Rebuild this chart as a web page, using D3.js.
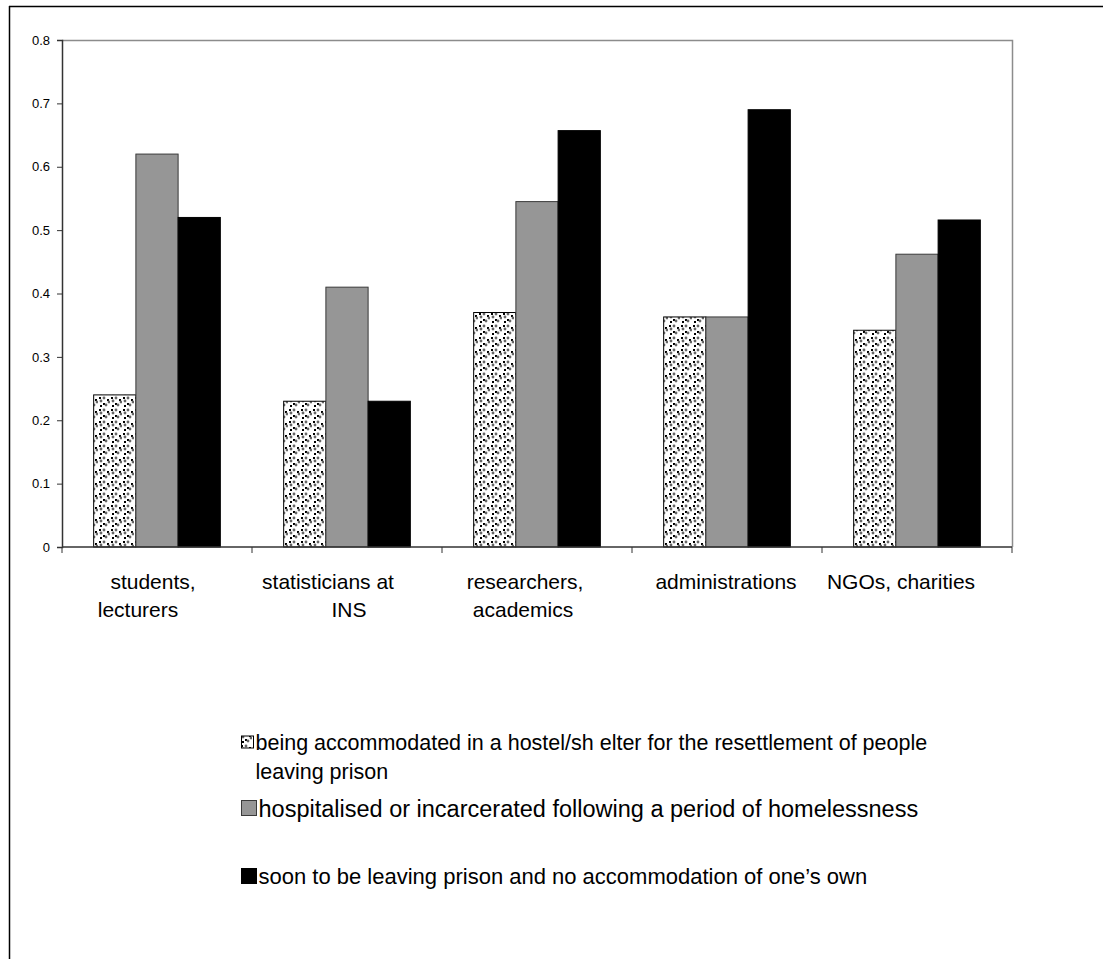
<!DOCTYPE html>
<html>
<head>
<meta charset="utf-8">
<script src="https://cdn.jsdelivr.net/npm/d3@7"></script>
<style>
  html, body { margin: 0; padding: 0; background: #fff; }
  svg { display: block; font-family: "Liberation Sans", Arial, sans-serif; }
</style>
</head>
<body>
<svg id="chart" width="1108" height="959"></svg>
<script>
// Groups of respondents along the x axis (each entry is one wrapped label)
const categories = [
  ["students,", "lecturers"],
  ["statisticians at", "INS"],
  ["researchers,", "academics"],
  ["administrations"],
  ["NGOs, charities"]
];

// Series names, as shown in the legend (first one wraps onto a second line)
const seriesNames = [
  ["being accommodated in a hostel/sh elter for the resettlement of people", "leaving prison"],
  ["hospitalised or incarcerated following a period of homelessness"],
  ["soon to be leaving prison and no accommodation of one\u2019s own"]
];

// Values per series, one per category
const hostelValues     = [0.24, 0.23, 0.37, 0.363, 0.342];
const hospitalValues   = [0.62, 0.41, 0.545, 0.363, 0.462];
const leavingValues    = [0.52, 0.23, 0.657, 0.69, 0.516];

const yTicks = [0, 0.1, 0.2, 0.3, 0.4, 0.5, 0.6, 0.7, 0.8];

const seriesValues = [hostelValues, hospitalValues, leavingValues];
const catKeys = categories.map(c => c.join(" "));
const seriesKeys = ["hostel", "hospital", "leaving"];

// Horizontal nudges for each wrapped label line (layout only)
const labelLineShift = [[-4, -19], [-19, 2], [-12, -14], [-1], [-16]];

const svg = d3.select("#chart");

// Dotted fill used by the first series
const defs = svg.append("defs");
const pat = defs.append("pattern")
  .attr("id", "dots")
  .attr("patternUnits", "userSpaceOnUse")
  .attr("width", 12).attr("height", 12);
pat.append("rect").attr("width", 12).attr("height", 12).attr("fill", "#fff");
[[1, 1], [5, 7], [9, 3], [2, 9]].forEach(([x, y]) =>
  pat.append("rect").attr("x", x).attr("y", y).attr("width", 2).attr("height", 2).attr("fill", "#000"));
[[8, 9], [6, 2], [11, 6], [3, 5]].forEach(([x, y]) =>
  pat.append("circle").attr("cx", x).attr("cy", y).attr("r", 1.4).attr("fill", "#666"));

const fills = ["url(#dots)", "#969696", "#000000"];
const strokes = ["#000", "#3a3a3a", "#000"];

// Outer frame (left and top edges)
svg.append("line").attr("x1", 9.5).attr("x2", 9.5).attr("y1", 6).attr("y2", 959)
  .attr("stroke", "#000").attr("stroke-width", 1.5);
svg.append("line").attr("x1", 9).attr("x2", 1103).attr("y1", 6.5).attr("y2", 6.5)
  .attr("stroke", "#000").attr("stroke-width", 1.5);

const plot = { left: 62, right: 1012, top: 40, bottom: 547 };

const x0 = d3.scaleBand().domain(catKeys).range([plot.left, plot.right]);
const x1 = d3.scaleBand().domain(seriesKeys).range([0, x0.bandwidth()])
  .paddingInner(0).paddingOuter(0.75);
const y = d3.scaleLinear().domain([0, 0.8]).range([plot.bottom, plot.top]);

// Plot area border: top and right in grey
svg.append("path")
  .attr("d", `M${plot.left},${plot.top + 0.5}H${plot.right + 0.5}V${plot.bottom}`)
  .attr("fill", "none").attr("stroke", "#8c8c8c").attr("stroke-width", 1.5);

// Bars
const groups = svg.append("g").selectAll("g")
  .data(catKeys)
  .join("g")
  .attr("transform", d => `translate(${x0(d)},0)`);

groups.selectAll("rect")
  .data((d, ci) => seriesKeys.map((s, si) => ({ s, si, v: seriesValues[si][ci] })))
  .join("rect")
  .attr("x", d => x1(d.s))
  .attr("width", x1.bandwidth())
  .attr("y", d => y(d.v))
  .attr("height", d => y(0) - y(d.v))
  .attr("fill", d => fills[d.si])
  .attr("stroke", d => strokes[d.si])
  .attr("stroke-width", 1);

// Y axis
const yAxis = svg.append("g")
  .attr("transform", `translate(${plot.left},0)`)
  .call(d3.axisLeft(y).tickValues(yTicks).tickSize(5).tickPadding(7)
    .tickFormat(d => d === 0 ? "0" : d3.format(".1f")(d)));
yAxis.select(".domain").attr("stroke", "#333").attr("stroke-width", 1.5);
yAxis.selectAll(".tick line").attr("stroke", "#333");
yAxis.selectAll(".tick text").attr("font-size", 13).attr("fill", "#000")
  .attr("font-family", "Liberation Sans, Arial, sans-serif");

// X axis with ticks at category boundaries
const xAxis = svg.append("g").attr("transform", `translate(0,${plot.bottom})`);
xAxis.append("line").attr("x1", plot.left).attr("x2", plot.right)
  .attr("stroke", "#333").attr("stroke-width", 1.5);
const boundaries = catKeys.map(k => x0(k)).concat([plot.right]);
xAxis.selectAll("line.tk").data(boundaries).join("line").attr("class", "tk")
  .attr("x1", d => d).attr("x2", d => d).attr("y1", 0).attr("y2", 6)
  .attr("stroke", "#333");

// Category labels
const catLabels = svg.append("g").selectAll("text")
  .data(categories)
  .join("text")
  .attr("text-anchor", "middle")
  .attr("font-size", 21)
  .attr("fill", "#000");
catLabels.each(function (lines, i) {
  const cx = x0(catKeys[i]) + x0.bandwidth() / 2;
  d3.select(this).selectAll("tspan").data(lines).join("tspan")
    .attr("x", (d, j) => cx + labelLineShift[i][j])
    .attr("y", (d, j) => 589 + j * 28)
    .text(d => d);
});

// Legend entries: swatch plus text (entry sizes differ slightly)
const legendRows = [742, 808, 876];
const swatchSize = [12, 15, 15];
const legendFont = [21.5, 23.5, 22];
const legend = svg.append("g");
seriesNames.forEach((lines, i) => {
  const cy = legendRows[i];
  const s = swatchSize[i];
  legend.append("rect")
    .attr("x", 241.5).attr("y", cy - s / 2)
    .attr("width", s).attr("height", s)
    .attr("fill", fills[i]).attr("stroke", strokes[i]).attr("stroke-width", 1);
  const t = legend.append("text").attr("font-size", legendFont[i]).attr("fill", "#000");
  t.selectAll("tspan").data(lines).join("tspan")
    .attr("x", 241.5 + s + 2)
    .attr("y", (d, j) => cy + legendFont[i] * 0.37 + j * 29)
    .text(d => d);
});
</script>
</body>
</html>
